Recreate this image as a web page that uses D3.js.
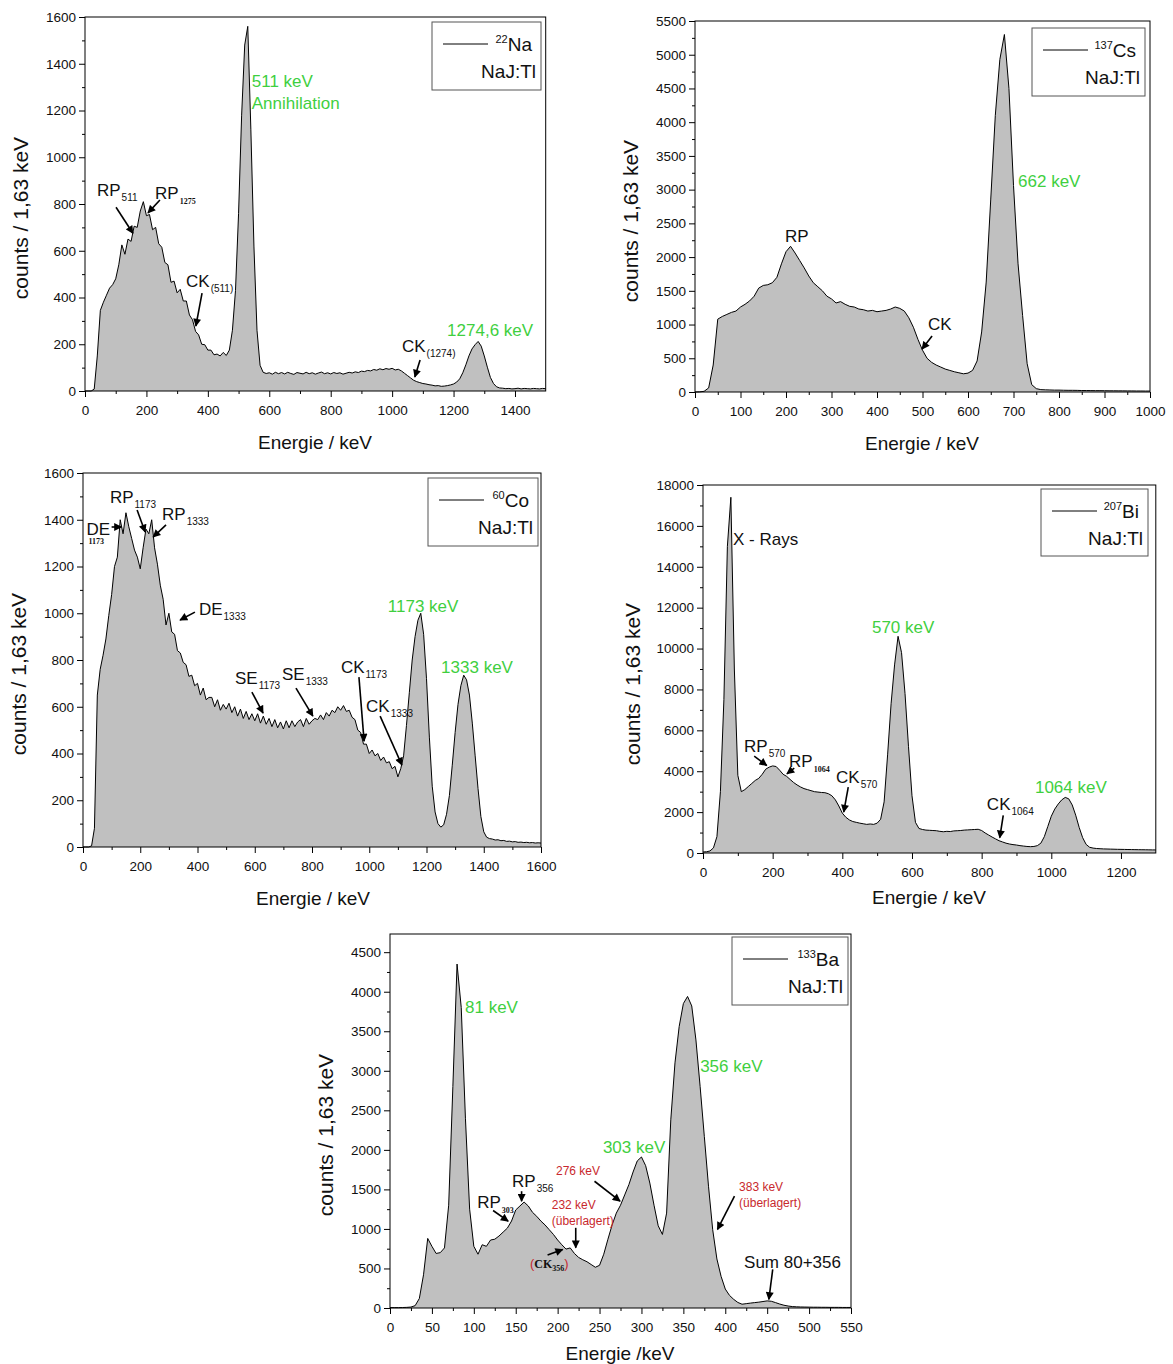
<!DOCTYPE html>
<meta charset="utf-8">
<style>
    body { margin: 0; background: #fff; }
    text { font-family: "Liberation Sans", Arial, sans-serif; fill: #111; }
    .tick text { font-size: 13.5px; fill: #111; }
    .tick line { stroke: #000; }
    .spec { fill: #c0c0c0; stroke: none; }
    .specline { fill: none; stroke: #000; stroke-width: 1; }
    .frame { fill: none; stroke: #000; stroke-width: 1; }
    .legbox { fill: #fff; stroke: #555; stroke-width: 1; }
    .arrow { stroke: #000; stroke-width: 1.6; fill: none; }
</style>
<body>
<script src="https://d3js.org/d3.v7.min.js"></script>
<script>
// counts per bin (start 0 keV, fixed step)
var naStep = 10;
var naCounts = [0,0,0,8,150, 345,380,410,440,455, 480,540,625,585,650, 640,705,700,770,810,
    750,755,690,700,630, 615,550,540,465,470, 420,435,385,385,325, 305,255,240,200,198,
    175,175,155,158,150, 165,152,175,260,430, 760,1180,1480,1560,1120, 620,260,110,80,75,
    78,72,80,74,79, 73,80,75,71,79, 76,73,80,74,78, 72,77,81,74,78,
    73,79,75,78,72, 76,80,77,82,79, 85,83,88,86,92, 89,95,91,96,93,
    97,90,93,86,76, 66,56,46,40,36, 32,30,27,25,22, 23,20,21,23,26,
    30,38,52,78,112, 150,180,198,212,192, 150,102,58,32,18, 13,12,10,11,9,
    10,12,9,11,10, 9,11,10,9,11, 10];

var csStep = 10;
var csCounts = [0,2,10,60,400, 1080,1120,1150,1180,1200, 1260,1300,1350,1420,1540, 1580,1590,1620,1700,1900,
    2080,2160,2060,1950,1840, 1720,1620,1560,1500,1420, 1380,1320,1340,1300,1270, 1260,1230,1220,1200,1210,
    1190,1200,1210,1230,1260, 1240,1200,1100,960,780, 620,500,440,400,370, 340,320,300,285,270,
    280,320,460,890,1630, 2860,4100,4930,5300,4500, 3060,1900,1135,420,110, 50,35,32,30,28,
    28,26,25,25,24, 22,22,21,20,20, 19,18,18,17,17, 16,16,15,15,14, 14];

var coStep = 10;
var coCounts = [0,0,0,5,80, 650,760,820,890,990, 1080,1200,1240,1400,1340, 1430,1370,1320,1270,1240,
    1190,1280,1360,1340,1400, 1280,1210,1120,1060,950, 1000,920,910,840,830, 790,780,730,735,690,
    700,650,680,630,640, 640,600,630,585,610, 590,615,575,600,560, 590,550,580,545,570,
    540,570,530,560,525, 550,515,545,510,535, 505,540,510,540,515, 535,545,515,550,525,
    540,550,545,565,545, 575,560,585,575,600, 585,605,580,585,555, 545,500,490,440,440,
    400,415,390,400,370, 385,360,365,335,345, 300,335,390,520,660, 800,900,970,1000,910,
    720,470,260,150,100, 85,95,140,220,350, 490,610,690,735,715, 650,530,390,250,130,
    65,42,36,34,30, 31,27,28,24,25, 22,23,20,21,19, 20,18,19,17,18, 17];

var biStep = 10;
var biCounts = [50,60,100,250,800, 3000,7500,15000,17400,9000, 3800,3000,3100,3250,3400, 3550,3650,3850,4100,4200,
    4260,4230,4050,3850,3750, 3600,3450,3330,3230,3150, 3100,3050,3000,2980,2960, 2950,2900,2800,2600,2300,
    1950,1750,1620,1540,1500, 1460,1430,1400,1420,1400, 1460,1650,2500,4800,7300, 9200,10600,9800,7800,5200,
    2800,1500,1200,1150,1120, 1110,1100,1090,1060,1040, 1060,1050,1080,1090,1100, 1120,1130,1140,1150,1160,
    1100,980,880,780,690, 600,540,480,440,410, 390,360,340,320,310, 320,360,480,800,1300,
    1800,2150,2400,2600,2720, 2650,2350,1850,1250,750, 420,280,240,220,210, 200,195,190,185,180,
    178,175,170,168,165, 162,160,158,155,152, 150];

var baStep = 5;
var baCounts = [5,5,5,6,8, 12,30,120,420,880, 780,690,700,760,1300, 2800,4350,3800,2400,1250,
    780,680,800,780,860, 870,910,960,1010,1100, 1240,1290,1340,1290,1210, 1160,1100,1050,990,930,
    860,800,745,760,690, 640,610,585,550,515, 540,680,870,1050,1200, 1300,1430,1560,1720,1860,
    1910,1800,1580,1300,1040, 930,1200,2380,3100,3560, 3850,3940,3820,3390,2800, 2170,1540,990,620,400,
    240,160,110,70,48, 55,62,68,74,82, 90,85,68,50,35, 25,18,15,13,12, 11,10,10,9,9, 8,8,8,7,7, 7];

// axis ticks
var naTicks = {x: [0, 1400, 200], y: [0, 1600, 200]};
var csTicks = {x: [0, 1000, 100], y: [0, 5500, 500]};
var coTicks = {x: [0, 1600, 200], y: [0, 1600, 200]};
var biTicks = {x: [0, 1200, 200], y: [0, 18000, 2000]};
var baTicks = {x: [0, 550, 50], y: [0, 4500, 500]};

var green = "#3fcf3f", red = "#c8282d";

// labels: e = keV, c = counts (text baseline, left edge)
var naNotes = [
    {t: "RP", s: "511", e: 39, c: 834},
    {t: "RP", s: "1275", e: 228, c: 821, serif: true},
    {t: "CK", s: "(511)", e: 329, c: 445},
    {t: "511 keV", e: 543, c: 1300, color: green},
    {t: "Annihilation", e: 543, c: 1206, color: green},
    {t: "CK", s: "(1274)", e: 1032, c: 167},
    {t: "1274,6 keV", e: 1179, c: 235, color: green}
];
var naArrows = [[101, 786, 156, 675], [244, 817, 205, 762], [381, 419, 361, 278], [1091, 133, 1074, 60]];

var csNotes = [
    {t: "RP", e: 198, c: 2224},
    {t: "CK", e: 512, c: 919},
    {t: "662 keV", e: 710, c: 3039, color: green}
];
var csArrows = [[521, 830, 499, 637]];

var coNotes = [
    {t: "DE", e: 12, c: 1335},
    {t: "1173", e: 19, c: 1296, size: 8, serif: true},
    {t: "RP", s: "1173", e: 94, c: 1472},
    {t: "RP", s: "1333", e: 276, c: 1399},
    {t: "DE", s: "1333", e: 405, c: 993},
    {t: "SE", s: "1173", e: 531, c: 697},
    {t: "SE", s: "1333", e: 695, c: 714},
    {t: "CK", s: "1173", e: 901, c: 744},
    {t: "CK", s: "1333", e: 989, c: 578},
    {t: "1173 keV", e: 1065, c: 1005, color: green},
    {t: "1333 keV", e: 1251, c: 744, color: green}
];
var coArrows = [[100, 1369, 134, 1369], [189, 1442, 217, 1348], [290, 1378, 245, 1326], [391, 1005, 339, 971],
    [590, 663, 629, 573], [744, 680, 803, 560], [964, 727, 982, 453], [1038, 560, 1114, 351]];

var biNotes = [
    {t: "X - Rays", e: 86, c: 15066},
    {t: "RP", s: "570", e: 118, c: 4940},
    {t: "RP", s: "1064", e: 247, c: 4207, serif: true},
    {t: "CK", s: "570", e: 382, c: 3424},
    {t: "570 keV", e: 485, c: 10761, color: green},
    {t: "CK", s: "1064", e: 815, c: 2103},
    {t: "1064 keV", e: 953, c: 2935, color: green}
];
var biArrows = [[147, 4735, 183, 4280], [262, 4150, 241, 3873], [417, 3222, 404, 2002], [862, 1839, 852, 749]];

var baNotes = [
    {t: "81 keV", e: 89.5, c: 3729, color: green},
    {t: "356 keV", e: 370, c: 2983, color: green},
    {t: "303 keV", e: 254, c: 1959, color: green},
    {t: "RP", s: "303", e: 104, c: 1264, serif: true},
    {t: "RP", s: "356", e: 145.6, c: 1530},
    {t: "276 keV", e: 198, c: 1681, color: red, size: 12},
    {t: "232 keV", e: 193, c: 1251, color: red, size: 12},
    {t: "(überlagert)", e: 193, c: 1049, color: red, size: 12},
    {t: "383 keV", e: 416.5, c: 1479, color: red, size: 12},
    {t: "(überlagert)", e: 416.5, c: 1277, color: red, size: 12},
    {t: "Sum 80+356", e: 422.4, c: 506},
    {parts: [["(", red, 13, 0, 0], ["CK", "#111", 12, 0, 1], ["356", "#111", 8, 3, 1], [")", red, 13, -3, 0]], e: 167, c: 506}
];
var baArrows = [[123, 1233, 141, 1098], [157, 1477, 157, 1351], [244, 1603, 274.5, 1351], [221.6, 1014, 221.6, 762],
    [188, 669, 206, 741], [411, 1414, 390.7, 993], [456.6, 488, 452, 109]];

var panels = [
    {counts: naCounts, step: naStep, ticks: naTicks, xMax: 1500, yMax: 1600, box: [85, 17, 545.7, 391],
        iso: "22", el: "Na", leg: [432, 22, 109, 68], xt: "Energie / keV", xtPos: [315, 449], ytPos: [28, 218],
        notes: naNotes, arrows: naArrows},
    {counts: csCounts, step: csStep, ticks: csTicks, xMax: 1000, yMax: 5500, box: [695, 21, 1150, 392],
        iso: "137", el: "Cs", leg: [1032, 28, 113, 68], xt: "Energie / keV", xtPos: [922, 450], ytPos: [638, 221],
        notes: csNotes, arrows: csArrows},
    {counts: coCounts, step: coStep, ticks: coTicks, xMax: 1600, yMax: 1600, box: [83, 473, 541, 847],
        iso: "60", el: "Co", leg: [428, 478, 110, 68], xt: "Energie / keV", xtPos: [313, 905], ytPos: [26, 674],
        notes: coNotes, arrows: coArrows},
    {counts: biCounts, step: biStep, ticks: biTicks, xMax: 1300, yMax: 18000, box: [703, 485, 1155.8, 853],
        iso: "207", el: "Bi", leg: [1041, 489, 107, 67], xt: "Energie / keV", xtPos: [929, 904], ytPos: [640, 684],
        notes: biNotes, arrows: biArrows},
    {counts: baCounts, step: baStep, ticks: baTicks, xMax: 550, yMax: 4730, box: [390, 934, 851, 1308],
        iso: "133", el: "Ba", leg: [732, 937, 116, 68], xt: "Energie /keV", xtPos: [620, 1360], ytPos: [333, 1135],
        notes: baNotes, arrows: baArrows}
];

var svg = d3.select("body").append("svg").attr("width", 1173).attr("height", 1364);

svg.append("defs").append("marker")
    .attr("id", "head").attr("viewBox", "0 0 10 10").attr("refX", 9).attr("refY", 5)
    .attr("markerUnits", "userSpaceOnUse").attr("markerWidth", 9).attr("markerHeight", 8)
    .attr("orient", "auto")
    .append("path").attr("d", "M0,0 L10,5 L0,10 z").attr("fill", "#000");

panels.forEach(function(p) {
    var b = p.box;
    var x = d3.scaleLinear().domain([0, p.xMax]).range([b[0], b[2]]);
    var y = d3.scaleLinear().domain([0, p.yMax]).range([b[3], b[1]]);
    var g = svg.append("g");

    var pts = p.counts.map(function(v, i) { return [i * p.step, v]; });
    g.append("path").datum(pts).attr("class", "spec")
        .attr("d", d3.area().x(d => x(d[0])).y0(y(0)).y1(d => y(d[1])));
    g.append("path").datum(pts).attr("class", "specline")
        .attr("d", d3.line().x(d => x(d[0])).y(d => y(d[1])));

    var t = p.ticks;
    var xMajor = d3.range(t.x[0], t.x[1] + 1e-6, t.x[2]);
    var yMajor = d3.range(t.y[0], t.y[1] + 1e-6, t.y[2]);
    var xMinor = d3.range(t.x[2] / 2, p.xMax, t.x[2]);
    var yMinor = d3.range(t.y[2] / 2, p.yMax, t.y[2]);

    g.append("g").attr("transform", "translate(0," + b[3] + ")")
        .call(d3.axisBottom(x).tickValues(xMajor).tickSize(6).tickPadding(8).tickFormat(d3.format("d")))
        .call(a => a.select(".domain").remove());
    g.append("g").attr("transform", "translate(0," + b[3] + ")")
        .call(d3.axisBottom(x).tickValues(xMinor).tickSize(3).tickFormat(""))
        .call(a => a.select(".domain").remove());
    g.append("g").attr("transform", "translate(" + b[0] + ",0)")
        .call(d3.axisLeft(y).tickValues(yMajor).tickSize(6).tickPadding(3).tickFormat(d3.format("d")))
        .call(a => a.select(".domain").remove());
    g.append("g").attr("transform", "translate(" + b[0] + ",0)")
        .call(d3.axisLeft(y).tickValues(yMinor).tickSize(3).tickFormat(""))
        .call(a => a.select(".domain").remove());
    g.selectAll(".tick text").style("font-family", "'Liberation Sans', Arial, sans-serif").attr("fill", "#111");

    g.append("rect").attr("class", "frame")
        .attr("x", b[0]).attr("y", b[1]).attr("width", b[2] - b[0]).attr("height", b[3] - b[1]);

    // axis titles
    g.append("text").attr("x", p.xtPos[0]).attr("y", p.xtPos[1]).attr("text-anchor", "middle")
        .style("font-size", "19px").text(p.xt);
    g.append("text").attr("transform", "translate(" + p.ytPos[0] + "," + p.ytPos[1] + ") rotate(-90)")
        .attr("text-anchor", "middle").style("font-size", "21px").text("counts / 1,63 keV");

    // legend
    var L = p.leg;
    g.append("rect").attr("class", "legbox").attr("x", L[0]).attr("y", L[1]).attr("width", L[2]).attr("height", L[3]);
    g.append("line").attr("x1", L[0] + 11).attr("x2", L[0] + 56).attr("y1", L[1] + 22).attr("y2", L[1] + 22)
        .attr("stroke", "#000").attr("stroke-width", 1);
    var lt = g.append("text").attr("x", L[0] + L[2] - 9).attr("y", L[1] + 29).attr("text-anchor", "end");
    lt.append("tspan").style("font-size", "11px").attr("dy", -8).text(p.iso);
    lt.append("tspan").style("font-size", "19px").attr("dy", 8).text(p.el);
    g.append("text").attr("x", L[0] + L[2] - 5).attr("y", L[1] + 56).attr("text-anchor", "end")
        .style("font-size", "19px").text("NaJ:Tl");

    // annotations
    p.notes.forEach(function(n) {
        var tx = g.append("text").attr("x", x(n.e)).attr("y", y(n.c));
        if (n.parts) {
            n.parts.forEach(function(q) {
                tx.append("tspan").text(q[0]).style("fill", q[1]).style("font-size", q[2] + "px")
                    .attr("dy", q[3])
                    .style("font-family", q[4] ? "'Liberation Serif', serif" : null)
                    .style("font-weight", q[4] ? "bold" : null);
            });
            return;
        }
        tx.style("font-size", (n.size || 17) + "px").style("fill", n.color || "#111");
        if (n.size && n.size < 10) tx.style("font-family", "'Liberation Serif', serif").style("font-weight", "bold");
        tx.append("tspan").text(n.t);
        if (n.s) {
            var sp = tx.append("tspan").attr("dx", 1).attr("dy", 5).text(n.s);
            if (n.serif) sp.style("font-size", "8px").style("font-family", "'Liberation Serif', serif").style("font-weight", "bold");
            else sp.style("font-size", "10px");
        }
    });
    p.arrows.forEach(function(a) {
        g.append("line").attr("class", "arrow")
            .attr("x1", x(a[0])).attr("y1", y(a[1])).attr("x2", x(a[2])).attr("y2", y(a[3]))
            .attr("marker-end", "url(#head)");
    });
});
</script>
</body>
